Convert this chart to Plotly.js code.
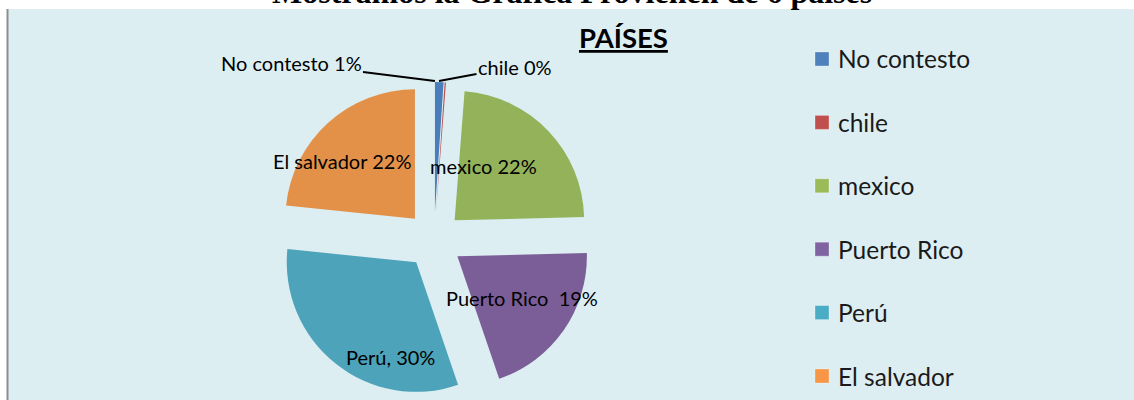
<!DOCTYPE html>
<html><head><meta charset="utf-8">
<script src="https://cdn.plot.ly/plotly-3.0.1.min.js"></script>
<style>html,body{margin:0;padding:0;background:#fff;overflow:hidden}#chart{width:1134px;height:400px}</style>
</head><body><div id="chart"></div>
<script>
// ---- data ----
const categories = ['No contesto', 'chile', 'mexico', 'Puerto Rico', 'Perú', 'El salvador'];
const values = [1, 0.15, 22, 19, 30, 22];
const sliceLabels = ['No contesto 1%', 'chile 0%', 'mexico 22%', 'Puerto Rico  19%', 'Perú, 30%', 'El salvador 22%'];
const sliceColors = ['#4A7EBB', '#C0504D', '#93B25A', '#7B5E98', '#4CA3BA', '#E39149'];
const legendColors = ['#4F81BD', '#C0504D', '#9BBB59', '#8064A2', '#4BACC6', '#F79646'];
const pageTitle = 'Mostramos la Gráfica Provienen de 6 países';
const chartTitle = 'PAÍSES';

// ---- layout helpers ----
const W = 1134, H = 400;
const px = x => x / W;
const py = y => 1 - y / H;
const LABEL_FONT = {family: 'Lato, "Open Sans", sans-serif', size: 20, color: '#000'};

const trace = {
  type: 'pie',
  labels: categories,
  values: values,
  textinfo: 'none',
  sort: false,
  direction: 'clockwise',
  rotation: 0,
  pull: values.map(() => 0.22),
  marker: {colors: sliceColors, line: {width: 0}},
  domain: {x: [px(276), px(592)], y: [py(398), py(82)]},
  hoverinfo: 'none',
  showlegend: false
};

const shapes = [
  {type: 'rect', xref: 'paper', yref: 'paper', x0: px(8), x1: 1, y0: 0, y1: py(9),
   fillcolor: '#DDEEF3', line: {width: 0}, layer: 'below'},
  {type: 'line', xref: 'paper', yref: 'paper', x0: px(7.5), x1: px(7.5), y0: 0, y1: py(9),
   line: {color: '#8E8E8E', width: 2}, layer: 'below'}
];

// data-label anchor points (label centres)
const labelAnchors = [null, null, [483, 166], [522, 298], [390, 357], [342, 161]];

const annotations = [
  {text: '<b>' + pageTitle + '</b>', xref: 'paper', yref: 'paper', x: px(572), y: py(-8),
   xanchor: 'center', yanchor: 'middle', showarrow: false,
   font: {family: '"Liberation Serif", "Times New Roman", serif', size: 32, color: '#000'}},
  {text: '<b><u>' + chartTitle + '</u></b>', xref: 'paper', yref: 'paper', x: px(623), y: py(37),
   xanchor: 'center', yanchor: 'middle', showarrow: false,
   font: {family: 'Lato, sans-serif', size: 27.5, color: '#000'}},
  {text: sliceLabels[0], xref: 'paper', yref: 'paper', x: px(435), y: py(81),
   ax: -144, ay: -18, showarrow: true, arrowhead: 0, arrowwidth: 2, arrowcolor: '#000',
   font: LABEL_FONT, standoff: 0},
  {text: sliceLabels[1], xref: 'paper', yref: 'paper', x: px(439), y: py(81),
   ax: 76, ay: -14, showarrow: true, arrowhead: 0, arrowwidth: 2, arrowcolor: '#000',
   font: LABEL_FONT, standoff: 0}
];

labelAnchors.forEach((p, i) => {
  if (!p) return;
  annotations.push({text: sliceLabels[i], xref: 'paper', yref: 'paper', x: px(p[0]), y: py(p[1]),
    xanchor: 'center', yanchor: 'middle', showarrow: false, font: LABEL_FONT});
});

// legend (built from categories)
const LEG_X = 815, LEG_Y0 = 59, LEG_DY = 63.4, SQ = 14;
categories.forEach((c, i) => {
  const cy = LEG_Y0 + i * LEG_DY;
  shapes.push({type: 'rect', xref: 'paper', yref: 'paper',
    x0: px(LEG_X), x1: px(LEG_X + SQ), y0: py(cy + SQ / 2), y1: py(cy - SQ / 2),
    fillcolor: legendColors[i], line: {color: 'rgba(255,255,255,0.6)', width: 0.5}});
  annotations.push({text: c, xref: 'paper', yref: 'paper', x: px(LEG_X + 21), y: py(cy),
    xanchor: 'left', yanchor: 'middle', showarrow: false,
    font: {family: 'Lato, sans-serif', size: 24.5, color: '#1a1a1a'}});
});

const layout = {
  width: W, height: H,
  margin: {l: 0, r: 0, t: 0, b: 0},
  paper_bgcolor: '#ffffff',
  plot_bgcolor: 'rgba(0,0,0,0)',
  showlegend: false,
  shapes: shapes,
  annotations: annotations
};

Plotly.newPlot('chart', [trace], layout, {staticPlot: true, displayModeBar: false});
</script></body></html>
